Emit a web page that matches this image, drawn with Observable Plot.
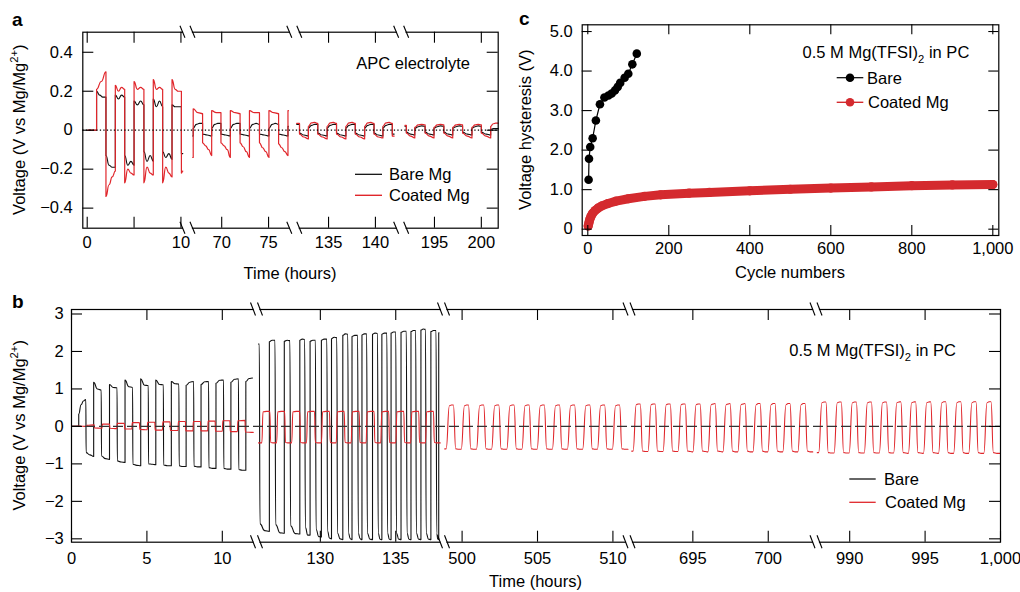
<!DOCTYPE html>
<html><head><meta charset="utf-8">
<script src="https://cdn.jsdelivr.net/npm/d3@7"></script>
<script src="https://cdn.jsdelivr.net/npm/@observablehq/plot@0.6"></script>
<style>
body{margin:0;background:#fff;}
#wrap{position:relative;width:1020px;height:592px;overflow:hidden;background:#fff;}
#wrap svg{position:absolute;overflow:visible;}
</style></head><body><div id="wrap"></div>
<script>
// ================= DATA =================
// ---- Panel a (APC electrolyte), broken time axis (hours)
const aSegments = [[-0.47, 10.75], [66.4, 77.8], [131.4, 142.8], [191.5, 201.8]];
const aTicks = [0, 5, 10, 70, 75, 135, 140, 195, 200];
const aTickLabels = ["0", "", "10", "70", "75", "135", "140", "195", "200"];
const aYTicks = [-0.4, -0.2, 0, 0.2, 0.4];
// switching times (h) and plateau voltages [start ... end] per half-cycle
const aT1 = [0.07, 1.0, 2.0, 3.0, 4.0, 5.0, 6.05, 7.05, 8.05, 9.05, 10.05, 10.2];
const aCoatedV1 = [[0, 0], [0.21, 0.25, 0.30], [-0.34, -0.28, -0.24, -0.21], [0.23, 0.20, 0.22, 0.21],
  [-0.27, -0.20, -0.22, -0.23], [0.25, 0.21, 0.22, 0.21], [-0.27, -0.19, -0.22, -0.23], [0.26, 0.21, 0.22, 0.21],
  [-0.27, -0.19, -0.22, -0.24], [0.26, 0.21, 0.20, 0.20], [-0.22, -0.21]];
const aBareV1 = [[0, 0], [0.20, 0.18, 0.17, 0.17], [-0.13, -0.18, -0.19, -0.19], [0.18, 0.16, 0.18, 0.17],
  [-0.13, -0.18, -0.16, -0.18], [0.15, 0.13, 0.15, 0.13], [-0.11, -0.16, -0.13, -0.16], [0.16, 0.12, 0.15, 0.12],
  [-0.11, -0.14, -0.12, -0.15], [0.13, 0.12, 0.12, 0.12], [-0.12, -0.12]];
const aT2 = [66.9, 66.96, 67.96, 68.93, 69.92, 70.92, 71.96, 72.96, 74.03, 75.04, 76.07, 77.07, 77.12];
const aCoatedV2 = [[-0.14, -0.14], [0.11, 0.09, 0.085], [-0.065, -0.08, -0.10, -0.13], [0.10, 0.09, 0.09],
  [-0.065, -0.08, -0.10, -0.14], [0.10, 0.09, 0.085], [-0.065, -0.085, -0.11, -0.14], [0.10, 0.09, 0.09],
  [-0.065, -0.09, -0.11, -0.14], [0.10, 0.09, 0.085], [-0.07, -0.09, -0.11, -0.13], [0.10, 0.10]];
const aBareV2 = [[-0.03, -0.03], [0.01, 0.03, 0.035, 0.035], [-0.02, -0.025, -0.03], [0.01, 0.03, 0.035, 0.035],
  [-0.02, -0.025, -0.03], [0.01, 0.03, 0.035, 0.035], [-0.02, -0.025, -0.03], [0.01, 0.03, 0.035, 0.03],
  [-0.02, -0.025, -0.03], [0.01, 0.03, 0.035, 0.03], [-0.02, -0.025, -0.03], [0.02, 0.02]];
const aT3 = [131.6, 131.9, 132.85, 133.85, 134.85, 135.85, 136.85, 137.85, 138.85, 139.85, 140.8, 141.8, 142.0];
const aCoatedV3 = [[0.035, 0.035], [-0.02, -0.035, -0.045], [0.02, 0.038, 0.04, 0.035], [-0.02, -0.035, -0.045],
  [0.02, 0.038, 0.04, 0.035], [-0.02, -0.035, -0.045], [0.02, 0.038, 0.04, 0.035], [-0.02, -0.035, -0.045],
  [0.02, 0.038, 0.04, 0.035], [-0.02, -0.035, -0.04], [0.02, 0.038, 0.04, 0.035], [-0.03, -0.03]];
const aBareV3 = [[0.03, 0.03], [-0.015, -0.025, -0.03], [0.012, 0.025, 0.03, 0.03], [-0.015, -0.025, -0.03],
  [0.012, 0.025, 0.03, 0.03], [-0.015, -0.025, -0.03], [0.012, 0.025, 0.03, 0.03], [-0.015, -0.025, -0.03],
  [0.012, 0.025, 0.03, 0.03], [-0.015, -0.025, -0.03], [0.012, 0.025, 0.03, 0.03], [-0.02, -0.02]];
const aT4 = [191.85, 192.0, 192.9, 194.0, 194.95, 196.0, 196.95, 198.0, 199.0, 200.0, 201.0, 201.8];
const aCoatedV4 = [[0.025, 0.025], [-0.015, -0.03, -0.04], [0.015, 0.027, 0.03, 0.028], [-0.015, -0.03, -0.04],
  [0.015, 0.027, 0.03, 0.028], [-0.015, -0.03, -0.04], [0.015, 0.027, 0.03, 0.028], [-0.015, -0.03, -0.04],
  [0.015, 0.027, 0.03, 0.028], [-0.015, -0.03, -0.04], [0.02, 0.033, 0.036, 0.036]];
const aBareV4 = [[0.02, 0.02], [-0.01, -0.02, -0.025], [0.01, 0.018, 0.022, 0.02], [-0.01, -0.02, -0.025],
  [0.01, 0.018, 0.022, 0.02], [-0.01, -0.02, -0.025], [0.01, 0.018, 0.022, 0.02], [-0.01, -0.02, -0.025],
  [0.01, 0.018, 0.022, 0.02], [-0.01, -0.02, -0.025], [0.005, 0.008, 0.008, 0.008]];

// ---- Panel b (0.5 M Mg(TFSI)2 in PC), broken time axis (hours)
const bSegments = [[0, 12.3], [125.8, 138.2], [498.8, 511.1], [690.8, 703.2], [987.8, 1000]];
const bTicks = [0, 5, 10, 130, 135, 500, 505, 510, 695, 700, 990, 995, 1000];
const bTickLabels = ["0", "5", "10", "130", "135", "500", "505", "510", "695", "700", "990", "995", "1,000"];
const bYTicks = [-3, -2, -1, 0, 1, 2, 3];
const bBareT1 = [0, 0.48, 0.95, 1.47, 1.97, 2.52, 3.02, 3.55, 4.05, 4.59, 5.09, 5.59, 6.09, 6.62, 7.12, 7.6, 8.1,
  8.59, 9.09, 9.58, 10.08, 10.57, 11.07, 11.56, 12.0];
const bBareV1 = [[0, 0], [0.33, 0.58, 0.68, 0.72], [-0.70, -0.76, -0.80], [1.18, 1.00, 0.97], [-0.79, -0.86, -0.88],
  [1.12, 1.04, 1.03], [-0.92, -0.95, -0.96], [1.24, 1.06, 1.04], [-1.01, -1.04, -1.05], [1.27, 1.10, 1.09],
  [-1.00, -1.01, -1.02], [1.24, 1.12, 1.11], [-1.03, -1.05, -1.05], [1.20, 1.14, 1.13], [-1.05, -1.07, -1.07],
  [1.10, 1.18, 1.20], [-1.06, -1.08, -1.08], [1.12, 1.19, 1.20], [-1.10, -1.12, -1.12], [1.15, 1.23, 1.24],
  [-1.12, -1.14, -1.14], [1.18, 1.26, 1.27], [-1.15, -1.17, -1.17], [1.20, 1.28, 1.29]];
const bCoatedT1 = [0, 1.0, 1.5, 2.02, 2.52, 3.0, 3.5, 4.0, 4.5, 5.02, 5.52, 6.03, 6.53, 7.06, 7.55, 8.05, 8.55,
  9.03, 9.52, 10.0, 10.5, 11.0, 11.5, 12.05];
const bCoatedV1 = [[0, 0.01, 0], [0.03, 0.04], [-0.04, -0.05], [0.06, 0.06], [-0.05, -0.06], [0.08, 0.08],
  [-0.07, -0.07], [0.10, 0.10], [-0.08, -0.09], [0.11, 0.11], [-0.10, -0.10], [0.12, 0.12], [-0.11, -0.11],
  [0.13, 0.13], [-0.12, -0.12], [0.13, 0.13], [-0.12, -0.12], [0.14, 0.14], [-0.13, -0.13], [0.15, 0.15],
  [-0.14, -0.14], [0.15, 0.16], [-0.15, -0.16]];
const bBareT2 = [125.9, 125.95, 126.62, 126.99, 127.61, 127.98, 128.64, 128.96, 129.32, 129.67, 130.07, 130.43,
  130.74, 131.09, 131.49, 131.82, 132.1, 132.47, 132.76, 133.07, 133.46, 133.79, 134.08, 134.41, 134.69, 135.0,
  135.35, 135.7, 136.01, 136.32, 136.67, 136.97, 137.33, 137.67, 137.85, 137.87];
const bBareV2 = [[2.2, 2.2], [-2.6, -2.78, -2.8],
  [2.26, 2.3, 2.3], [-2.62, -2.84, -2.85], [2.27, 2.3, 2.29], [-2.65, -2.86, -2.87],
  [2.3, 2.33, 2.32], [-2.7, -2.9, -2.9], [2.27, 2.3, 2.3], [-2.75, -2.94, -2.95],
  [2.3, 2.33, 2.33], [-2.8, -2.98, -3.0], [2.34, 2.38, 2.37], [-2.85, -3.0, -3.02],
  [2.43, 2.47, 2.46], [-2.85, -3.0, -3.02], [2.4, 2.43, 2.43], [-2.85, -3.0, -3.02],
  [2.44, 2.47, 2.47], [-2.85, -3.01, -3.02], [2.46, 2.49, 2.48], [-2.85, -3.01, -3.02],
  [2.46, 2.49, 2.49], [-2.85, -3.01, -3.02], [2.49, 2.52, 2.52], [-2.85, -3.01, -3.02],
  [2.51, 2.54, 2.54], [-2.85, -3.01, -3.02], [2.53, 2.56, 2.56], [-2.85, -3.01, -3.02],
  [2.57, 2.6, 2.59], [-2.85, -3.01, -3.02], [2.53, 2.56, 2.56], [-2.85, -3.01, -3.02], [2.5]];
const bCoatedT2 = [125.9, 126.12, 126.65, 127.1, 127.63, 128.1, 128.63, 129.08, 129.61, 130.07, 130.6, 131.05,
  131.58, 132.04, 132.57, 133.03, 133.56, 134.0, 134.53, 135.0, 135.53, 135.99, 136.52, 136.97, 137.5, 137.95];
const bCoatedV2 = [[-0.44, -0.44],
  [0.39, 0.40, 0.40], [-0.43, -0.44, -0.44], [0.39, 0.40, 0.40], [-0.43, -0.44, -0.44],
  [0.39, 0.40, 0.40], [-0.43, -0.44, -0.44], [0.39, 0.40, 0.40], [-0.43, -0.44, -0.44],
  [0.39, 0.40, 0.40], [-0.43, -0.44, -0.44], [0.39, 0.40, 0.40], [-0.43, -0.44, -0.44],
  [0.39, 0.40, 0.40], [-0.43, -0.44, -0.44], [0.39, 0.40, 0.40], [-0.43, -0.44, -0.44],
  [0.39, 0.40, 0.40], [-0.43, -0.44, -0.44], [0.39, 0.40, 0.40], [-0.43, -0.44, -0.44],
  [0.39, 0.40, 0.40], [-0.43, -0.44, -0.44], [0.39, 0.40, 0.40], [-0.43, -0.44, -0.44]];
const bCoatedT3 = [498.85, 498.94, 499.42, 499.94, 500.42, 500.95, 501.43, 501.95, 502.43, 502.96, 503.44, 503.96,
  504.44, 504.97, 505.45, 505.98, 506.46, 506.98, 507.46, 507.99, 508.47, 508.97, 509.45, 509.96, 510.44, 511.0];
const bCoatedV3 = [[-0.60, -0.60],
  [0.55, 0.57, 0.57], [-0.60, -0.61, -0.61], [0.55, 0.57, 0.57], [-0.60, -0.61, -0.61],
  [0.55, 0.57, 0.57], [-0.60, -0.61, -0.61], [0.55, 0.57, 0.57], [-0.60, -0.61, -0.61],
  [0.55, 0.57, 0.57], [-0.60, -0.61, -0.61], [0.55, 0.57, 0.57], [-0.60, -0.61, -0.61],
  [0.55, 0.57, 0.57], [-0.60, -0.61, -0.61], [0.55, 0.57, 0.57], [-0.60, -0.61, -0.61],
  [0.55, 0.57, 0.57], [-0.60, -0.61, -0.61], [0.55, 0.57, 0.57], [-0.60, -0.61, -0.61],
  [0.55, 0.57, 0.57], [-0.60, -0.61, -0.61], [0.55, 0.57, 0.57], [-0.60, -0.61, -0.61]];
const bCoatedT4 = [690.95, 691.03, 691.51, 692.02, 692.5, 693.02, 693.5, 694.01, 694.49, 695.0, 695.48, 696.0,
  696.48, 696.99, 697.47, 697.98, 698.46, 698.98, 699.46, 699.97, 700.45, 700.96, 701.44, 701.96, 702.44, 702.95];
const bCoatedV4 = [[-0.66, -0.66],
  [0.58, 0.60, 0.60], [-0.66, -0.67, -0.67], [0.58, 0.60, 0.60], [-0.66, -0.67, -0.67],
  [0.58, 0.60, 0.60], [-0.66, -0.67, -0.67], [0.58, 0.60, 0.60], [-0.66, -0.67, -0.68],
  [0.58, 0.60, 0.60], [-0.66, -0.67, -0.68], [0.58, 0.60, 0.61], [-0.66, -0.67, -0.68],
  [0.58, 0.60, 0.61], [-0.66, -0.68, -0.68], [0.58, 0.60, 0.61], [-0.66, -0.68, -0.68],
  [0.58, 0.61, 0.61], [-0.66, -0.68, -0.68], [0.58, 0.61, 0.61], [-0.66, -0.68, -0.68],
  [0.58, 0.61, 0.61], [-0.66, -0.68, -0.68], [0.58, 0.61, 0.61], [-0.66, -0.68, -0.68]];
const bCoatedT5 = [987.85, 987.94, 988.42, 988.96, 989.44, 989.96, 990.44, 990.96, 991.44, 991.96, 992.44, 992.91,
  993.39, 993.89, 994.37, 994.89, 995.37, 995.89, 996.37, 996.89, 997.37, 997.89, 998.37, 998.89, 999.37, 1000];
const bCoatedV5 = [[-0.70, -0.70],
  [0.63, 0.65, 0.65], [-0.70, -0.71, -0.71], [0.63, 0.65, 0.65], [-0.70, -0.71, -0.71],
  [0.63, 0.65, 0.65], [-0.70, -0.71, -0.71], [0.63, 0.65, 0.65], [-0.70, -0.71, -0.71],
  [0.63, 0.65, 0.65], [-0.70, -0.71, -0.71], [0.63, 0.65, 0.66], [-0.70, -0.71, -0.72],
  [0.63, 0.65, 0.66], [-0.70, -0.71, -0.72], [0.63, 0.65, 0.66], [-0.70, -0.71, -0.72],
  [0.63, 0.66, 0.66], [-0.70, -0.72, -0.72], [0.63, 0.66, 0.66], [-0.70, -0.72, -0.72],
  [0.63, 0.66, 0.66], [-0.70, -0.72, -0.72], [0.63, 0.66, 0.66], [-0.70, -0.72, -0.72]];

// ---- Panel c: voltage hysteresis vs cycle number
const cBareCycle = [2, 3, 6, 12, 20, 30, 41, 51, 59, 67, 74, 80, 91, 100, 110, 121];
const cBareHyst = [1.25, 1.78, 2.08, 2.3, 2.75, 3.16, 3.33, 3.38, 3.43, 3.51, 3.6, 3.7, 3.83, 3.93, 4.17, 4.44];
const cCoatedCycle = [1, 3, 5, 8, 12, 18, 25, 35, 50, 70, 100, 140, 180, 250, 300, 400, 500, 600, 700, 800, 900, 1000];
const cCoatedHyst = [0.08, 0.17, 0.25, 0.33, 0.40, 0.47, 0.53, 0.59, 0.65, 0.71, 0.77, 0.83, 0.87, 0.91, 0.93,
  0.97, 1.01, 1.04, 1.07, 1.10, 1.12, 1.13];
const cXTicks = [0, 200, 400, 600, 800, 1000];
const cYTicks = [0, 1, 2, 3, 4, 5];

// ================= HELPERS =================
const FONT = "'Liberation Sans', Arial, Helvetica, sans-serif";
const RED = "#e0262b";
const wrap = document.getElementById("wrap");

function segMapper(segs) {
  const offs = []; let acc = 0;
  segs.forEach(([a, b]) => { offs.push(acc); acc += b - a; });
  return {
    total: acc, bounds: offs.slice(1),
    map(t) {
      for (let i = 0; i < segs.length; i++) {
        const [a, b] = segs[i];
        if (t >= a - 1e-9 && t <= b + 1e-9) return offs[i] + (t - a);
      }
      return NaN;
    }
  };
}
function buildTrace(times, levels, upW, downW) {
  const pts = [];
  for (let i = 0; i < levels.length; i++) {
    const L = levels[i], t0 = times[i], t1 = times[i + 1];
    let s = t0;
    if (i > 0) {
      const prev = levels[i - 1][levels[i - 1].length - 1];
      s = t0 + (L[0] >= prev ? upW : downW);
    }
    const vals = L.length === 1 ? [L[0], L[0]] : L;
    vals.forEach((v, j) => pts.push([s + (t1 - s) * j / (vals.length - 1), v]));
  }
  return pts;
}
function rows(mapper, key, times, levels, upW = 0, downW = 0) {
  return buildTrace(times, levels, upW, downW).map(([t, v]) => ({x: mapper.map(t), y: v, k: key}));
}
function frameTicks(xT, yT, fw, fh, len) {
  return [
    Plot.tickX(xT, {x: d => d, insetBottom: fh - len, stroke: "#000", strokeWidth: 1.1}),
    Plot.tickX(xT, {x: d => d, insetTop: fh - len, stroke: "#000", strokeWidth: 1.1}),
    Plot.tickY(yT, {y: d => d, insetRight: fw - len, stroke: "#000", strokeWidth: 1.1}),
    Plot.tickY(yT, {y: d => d, insetLeft: fw - len, stroke: "#000", strokeWidth: 1.1})
  ];
}
function richText(g, o, parts) {
  const size = o.size || 16.5;
  const t = g.append("text").attr("x", o.x).attr("y", o.y).attr("text-anchor", o.anchor || "start")
    .attr("font-size", size).attr("font-weight", o.weight || "normal").attr("font-family", FONT).attr("fill", "#000");
  if (o.rotate) t.attr("transform", `rotate(${o.rotate},${o.x},${o.y})`);
  let shift = 0;
  for (const p of parts) {
    const [str, kind] = typeof p === "string" ? [p, ""] : p;
    const target = kind === "sup" ? -0.42 * size : kind === "sub" ? 0.28 * size : 0;
    const ts = t.append("tspan").text(str).attr("dy", target - shift);
    if (kind) ts.attr("font-size", size * 0.68);
    shift = target;
  }
  return t;
}
function breaks(svg, chart, bounds, mt, fh, gap, dx, h) {
  const sx = chart.scale("x");
  const g = svg.append("g");
  for (const b of bounds) {
    const cx = sx.apply(b);
    for (const yy of [mt, mt + fh]) {
      g.append("rect").attr("x", cx - gap / 2 + 0.6).attr("y", yy - 2).attr("width", gap - 1.2).attr("height", 4).attr("fill", "#fff");
      for (const off of [-gap / 2, gap / 2]) {
        g.append("line").attr("x1", cx + off - dx / 2).attr("y1", yy - h / 2)
          .attr("x2", cx + off + dx / 2).attr("y2", yy + h / 2).attr("stroke", "#000").attr("stroke-width", 1.1);
      }
    }
  }
}
function place(chart, left, top) {
  chart.style.left = left + "px"; chart.style.top = top + "px";
  wrap.appendChild(chart);
  return d3.select(chart);
}
const style = {fontFamily: FONT, fontSize: "16.5px", background: "transparent", color: "#000", overflow: "visible"};
const yVoltage = ["Voltage (V vs Mg/Mg", ["2+", "sup"], ")"];
const tfsi = ["0.5 M Mg(TFSI)", ["2", "sub"], " in PC"];

// ================= PANEL A =================
{
  const W = 510, H = 290, ml = 82.3, mr = 12.3, mt = 31.7, mb = 62.3;
  const fw = W - ml - mr, fh = H - mt - mb;
  const m = segMapper(aSegments);
  const coated = [
    ...rows(m, "c1", aT1, aCoatedV1), ...rows(m, "c2", aT2, aCoatedV2),
    ...rows(m, "c3", aT3, aCoatedV3), ...rows(m, "c4", aT4, aCoatedV4)];
  const bare = [
    ...rows(m, "b1", aT1, aBareV1), ...rows(m, "b2", aT2, aBareV2),
    ...rows(m, "b3", aT3, aBareV3), ...rows(m, "b4", aT4, aBareV4)];
  const xt = aTicks.map(t => m.map(t));
  const lab = new Map(xt.map((v, i) => [v, aTickLabels[i]]));
  const chart = Plot.plot({
    width: W, height: H, marginLeft: ml, marginRight: mr, marginTop: mt, marginBottom: mb,
    style,
    x: {domain: [0, m.total], label: null},
    y: {domain: [-0.503, 0.503], label: null},
    marks: [
      Plot.line(bare, {x: "x", y: "y", z: "k", stroke: "#111", strokeWidth: 1.1, curve: "bump-x"}),
      Plot.line(coated, {x: "x", y: "y", z: "k", stroke: RED, strokeWidth: 1.2, curve: "bump-x"}),
      Plot.ruleY([0], {stroke: "#000", strokeWidth: 1.2, strokeDasharray: "1.3,2.2"}),
      Plot.frame({stroke: "#000", strokeWidth: 1.2}),
      ...frameTicks(xt, aYTicks, fw, fh, 11),
      Plot.axisX(xt, {tickSize: 0, tickPadding: 8.5, tickFormat: d => lab.get(d), label: null}),
      Plot.axisY(aYTicks, {tickSize: 0, tickPadding: 10, tickFormat: d => d === 0 ? "0" : d3.format(".1f")(d), label: null})
    ]
  });
  const svg = place(chart, 0, 0);
  breaks(svg, chart, m.bounds, mt, fh, 10, 5, 12);
  const g = svg.append("g");
  richText(g, {x: 12, y: 25.5, size: 19, weight: "bold"}, ["a"]);
  richText(g, {x: 25, y: mt + fh / 2, anchor: "middle", rotate: -90}, yVoltage);
  richText(g, {x: ml + fw / 2, y: 279, anchor: "middle"}, ["Time (hours)"]);
  richText(g, {x: 470, y: 69, anchor: "end"}, ["APC electrolyte"]);
  g.append("line").attr("x1", 355).attr("x2", 382).attr("y1", 174.3).attr("y2", 174.3).attr("stroke", "#000").attr("stroke-width", 1.2);
  g.append("line").attr("x1", 355).attr("x2", 382).attr("y1", 195.3).attr("y2", 195.3).attr("stroke", RED).attr("stroke-width", 1.4);
  richText(g, {x: 389, y: 180}, ["Bare Mg"]);
  richText(g, {x: 389, y: 201}, ["Coated Mg"]);
}

// ================= PANEL C =================
{
  const W = 510, H = 290, ml = 71.7, mr = 21.7, mt = 24.3, mb = 55;
  const fw = W - ml - mr, fh = H - mt - mb;
  const bare = cBareCycle.map((c, i) => ({c, h: cBareHyst[i]}));
  const coated = cCoatedCycle.map((c, i) => ({c, h: cCoatedHyst[i]}));
  const chart = Plot.plot({
    width: W, height: H, marginLeft: ml, marginRight: mr, marginTop: mt, marginBottom: mb,
    style,
    x: {domain: [-13.8, 1014.8], label: null},
    y: {domain: [-0.16, 5.17], label: null},
    marks: [
      Plot.line(coated, {x: "c", y: "h", stroke: "#d42a2e", strokeWidth: 9, strokeLinecap: "round", strokeLinejoin: "round"}),
      Plot.dot(coated, {x: "c", y: "h", r: 4.6, fill: "#d42a2e", stroke: "none"}),
      Plot.line(bare, {x: "c", y: "h", stroke: "#000", strokeWidth: 1.2}),
      Plot.dot(bare, {x: "c", y: "h", r: 4.3, fill: "#000", stroke: "none"}),
      Plot.frame({stroke: "#000", strokeWidth: 1.2}),
      ...frameTicks(cXTicks, cYTicks, fw, fh, 10),
      Plot.axisX(cXTicks, {tickSize: 0, tickPadding: 6.5, tickFormat: d3.format(","), label: null}),
      Plot.axisY(cYTicks, {tickSize: 0, tickPadding: 9.4, tickFormat: d => d === 0 ? "0" : d3.format(".1f")(d), label: null})
    ]
  });
  const svg = place(chart, 510, 0);
  const g = svg.append("g");
  richText(g, {x: 9, y: 25, size: 19, weight: "bold"}, ["c"]);
  richText(g, {x: 20.6, y: mt + fh / 2, anchor: "middle", rotate: -90}, ["Voltage hysteresis (V)"]);
  richText(g, {x: ml + fw / 2, y: 278, anchor: "middle"}, ["Cycle numbers"]);
  richText(g, {x: 459.3, y: 58.3, anchor: "end"}, tfsi);
  g.append("line").attr("x1", 326.7).attr("x2", 353.3).attr("y1", 77.7).attr("y2", 77.7).attr("stroke", "#000").attr("stroke-width", 1.2);
  g.append("circle").attr("cx", 340).attr("cy", 77.7).attr("r", 4.3).attr("fill", "#000");
  g.append("line").attr("x1", 326.7).attr("x2", 353.3).attr("y1", 102.3).attr("y2", 102.3).attr("stroke", "#d42a2e").attr("stroke-width", 1.4);
  g.append("circle").attr("cx", 340).attr("cy", 102.3).attr("r", 4.3).attr("fill", "#d42a2e");
  richText(g, {x: 357, y: 83.5}, ["Bare"]);
  richText(g, {x: 358, y: 108.3}, ["Coated Mg"]);
}

// ================= PANEL B =================
{
  const W = 1020, H = 302, ml = 71, mr = 20, mt = 19, mb = 50.3;
  const fw = W - ml - mr, fh = H - mt - mb;
  const m = segMapper(bSegments);
  const bare = [...rows(m, "b1", bBareT1, bBareV1, 0, 0.02), ...rows(m, "b2", bBareT2, bBareV2, 0, 0.05)];
  const coated = [
    ...rows(m, "c1", bCoatedT1, bCoatedV1, 0.03, 0.03),
    ...rows(m, "c2", bCoatedT2, bCoatedV2, 0.08, 0.06),
    ...rows(m, "c3", bCoatedT3, bCoatedV3, 0.22, 0.16),
    ...rows(m, "c4", bCoatedT4, bCoatedV4, 0.22, 0.16),
    ...rows(m, "c5", bCoatedT5, bCoatedV5, 0.22, 0.16)];
  const xt = bTicks.map(t => m.map(t));
  const lab = new Map(xt.map((v, i) => [v, bTickLabels[i]]));
  const chart = Plot.plot({
    width: W, height: H, marginLeft: ml, marginRight: mr, marginTop: mt, marginBottom: mb,
    style,
    x: {domain: [0, m.total], label: null},
    y: {domain: [-3.09, 3.12], label: null},
    marks: [
      Plot.line(bare, {x: "x", y: "y", z: "k", stroke: "#111", strokeWidth: 1.1, curve: "bump-x"}),
      Plot.line(coated, {x: "x", y: "y", z: "k", stroke: RED, strokeWidth: 1.1, curve: "bump-x"}),
      Plot.ruleY([0], {stroke: "#333", strokeWidth: 1.1, strokeDasharray: "10,4"}),
      Plot.frame({stroke: "#000", strokeWidth: 1.2}),
      ...frameTicks(xt, bYTicks, fw, fh, 11),
      Plot.axisX(xt, {tickSize: 0, tickPadding: 10, tickFormat: d => lab.get(d), label: null}),
      Plot.axisY(bYTicks, {tickSize: 0, tickPadding: 7.7, tickFormat: d3.format("d"), label: null})
    ]
  });
  const svg = place(chart, 0, 290);
  breaks(svg, chart, m.bounds, mt, fh, 7, 5, 13);
  const g = svg.append("g");
  richText(g, {x: 12, y: 18, size: 19, weight: "bold"}, ["b"]);
  richText(g, {x: 25, y: mt + fh / 2, anchor: "middle", rotate: -90}, yVoltage);
  richText(g, {x: ml + fw / 2, y: 297, anchor: "middle"}, ["Time (hours)"]);
  richText(g, {x: 956, y: 66, anchor: "end"}, tfsi);
  g.append("line").attr("x1", 849.3).attr("x2", 875.7).attr("y1", 189).attr("y2", 189).attr("stroke", "#000").attr("stroke-width", 1.2);
  g.append("line").attr("x1", 849.3).attr("x2", 875.7).attr("y1", 212.3).attr("y2", 212.3).attr("stroke", RED).attr("stroke-width", 1.3);
  richText(g, {x: 884, y: 195}, ["Bare"]);
  richText(g, {x: 885, y: 218.3}, ["Coated Mg"]);
}
</script></body></html>
